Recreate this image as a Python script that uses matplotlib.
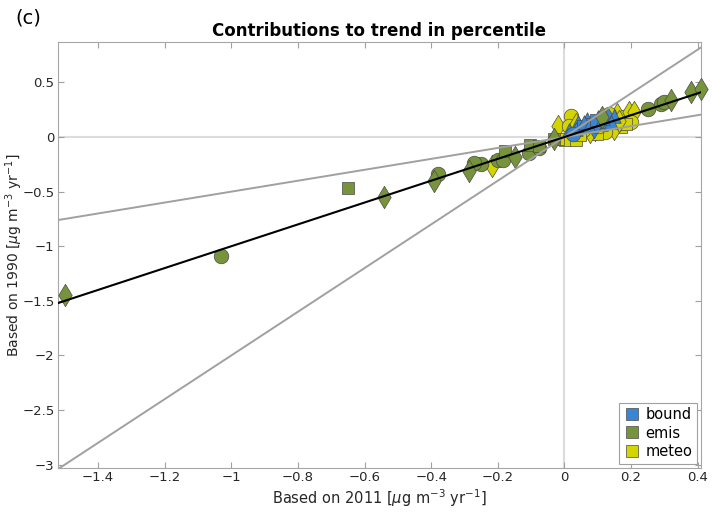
import numpy as np
import matplotlib.pyplot as plt
from matplotlib.lines import Line2D

# Значения
bound_x = [0.015, 0.04, 0.067, 0.077, 0.10, 0.11, 0.13, 0.15, 0.036, 0.056, 0.087, 0.12, 0.025, 0.14, 0.09,
           0.06, 0.075, 0.095, 0.115]
bound_y = [0.06, 0.135, 0.166, 0.12, 0.18, 0.12, 0.166, 0.196, 0.075, 0.105, 0.136, 0.15, 0.03, 0.14, 0.09,
           0.14, 0.10, 0.16, 0.175]
bound_markers = ['^', '^', '^', 's', '^', '^', 'd', '^', '^', 's', '^', '^', 'o', '^', 'd',
                 '^', '^', 's', '^']

emis_x = [-1.03, -0.38, -0.25, -0.27, -0.20, -0.183, -0.106, -0.075, 0.25, 0.29, 0.30,
          -0.65, -0.178, -0.104, -0.077, -0.03,
          -1.5, -0.54, -0.39, -0.286, -0.147, -0.03, 0.113, 0.32, 0.38, 0.41]
emis_y = [-1.09, -0.34, -0.245, -0.24, -0.21, -0.207, -0.146, -0.10, 0.26, 0.30, 0.32,
          -0.47, -0.131, -0.07, -0.08, -0.02,
          -1.45, -0.545, -0.40, -0.312, -0.185, -0.015, 0.18, 0.34, 0.41, 0.44]
emis_markers = ['o'] * 11 + ['s'] * 5 + ['d'] * 10

meteo_x = [-0.217, -0.02, 0.02, 0.015, 0.003, 0.036, -0.02,
           0.067, 0.092, 0.118, 0.139, 0.159, 0.18, 0.195, 0.21, 0.20, 0.17, 0.149, 0.123,
           0.098, 0.077, 0.056, 0.036, 0.133, 0.185, 0.164, 0.103, 0.046]
meteo_y = [-0.267, 0.10, 0.19, 0.10, -0.03, -0.03, -0.02,
           0.09, 0.06, 0.09, 0.105, 0.21, 0.18, 0.226, 0.226, 0.136, 0.09, 0.075, 0.045,
           0.03, 0.045, 0.06, 0.12, 0.21, 0.12, 0.15, 0.105, 0.015]
meteo_markers = ['d', 'd', 'o', 'o', 's', 's', 's',
                 'o', 'd', 's', 'o', 'd', 'o', 'd', 'd', 'o', 's', 'd', 'o',
                 's', 'd', 'o', 'd', 'o', 's', 'd', 'o', 's']

ref_slopes = [2.0, 0.5]   # серые линии
fit_slope = 1.0           # чёрная линия

xticks = [-1.4, -1.2, -1.0, -0.8, -0.6, -0.4, -0.2, 0.0, 0.2, 0.4]
xtick_labels = ['\u22121.4', '\u22121.2', '\u22121', '\u22120.8', '\u22120.6', '\u22120.4', '\u22120.2', '0', '0.2', '0.4']
yticks = [-3.0, -2.5, -2.0, -1.5, -1.0, -0.5, 0.0, 0.5]
ytick_labels = ['\u22123', '\u22122.5', '\u22122', '\u22121.5', '\u22121', '\u22120.5', '0', '0.5']

colors = {'bound': '#3a86d4', 'emis': '#77933c', 'meteo': '#d4d400'}
sizes = {'o': 110, 's': 80, 'd': 130, '^': 95}

fig = plt.figure(figsize=(7.12, 5.26), dpi=100)
ax = fig.add_axes([58/712, 1 - 468/526, (701 - 58)/712, (468 - 42)/526])

ax.axhline(0, color='#dcdcdc', lw=1.5, zorder=1)
ax.axvline(0, color='#dcdcdc', lw=1.5, zorder=1)

def draw(xs, ys, ms, c, z):
    for x, y, m in zip(xs, ys, ms):
        ax.scatter(x, y, marker=m, s=sizes[m], c=c, edgecolors='#4a4a4a', linewidths=0.5,
                   zorder=z, clip_on=False)

draw(meteo_x, meteo_y, meteo_markers, colors['meteo'], 3)
draw(bound_x, bound_y, bound_markers, colors['bound'], 4)
draw(emis_x, emis_y, emis_markers, colors['emis'], 5)

for k in ref_slopes:
    ax.axline((0, 0), slope=k, color='#a0a0a0', lw=1.4, zorder=6)
ax.axline((0, 0), slope=fit_slope, color='black', lw=1.5, zorder=7)

ax.set_xlim(-1.52, 0.41)
ax.set_ylim(-3.03, 0.87)
ax.set_xticks(xticks)
ax.set_xticklabels(xtick_labels)
ax.set_yticks(yticks)
ax.set_yticklabels(ytick_labels)
ax.tick_params(direction='in', length=4, color='#a0a0a0', labelsize=9.5, labelcolor='#262626',
               top=True, right=True, pad=2.5)
for s in ax.spines.values():
    s.set_color('#a6a6a6')

ax.set_xlabel(r'Based on 2011 [$\mu$g m$^{-3}$ yr$^{-1}$]', fontsize=10.5, color='#262626', labelpad=2)
ax.set_ylabel(r'Based on 1990 [$\mu$g m$^{-3}$ yr$^{-1}$]', fontsize=10, color='#262626')
ax.yaxis.set_label_coords(-0.052, 0.5)
ax.set_title('Contributions to trend in percentile', fontsize=12, fontweight='bold', pad=4)
fig.text(15/712, 1 - 18/526, '(c)', fontsize=14, va='center', ha='left')

handles = [Line2D([], [], marker='s', ls='', markersize=8, markerfacecolor=colors[n],
                  markeredgecolor='#4a4a4a', markeredgewidth=0.5, label=n) for n in ['bound', 'emis', 'meteo']]
leg = ax.legend(handles=handles, loc='lower right', fontsize=10.5, fancybox=False, framealpha=1,
                edgecolor='#a0a0a0', borderaxespad=0.3, handletextpad=0.3, handlelength=1.2,
                labelspacing=0.25, borderpad=0.3)
leg.get_frame().set_linewidth(0.8)

fig.savefig('out.png', dpi=100)
